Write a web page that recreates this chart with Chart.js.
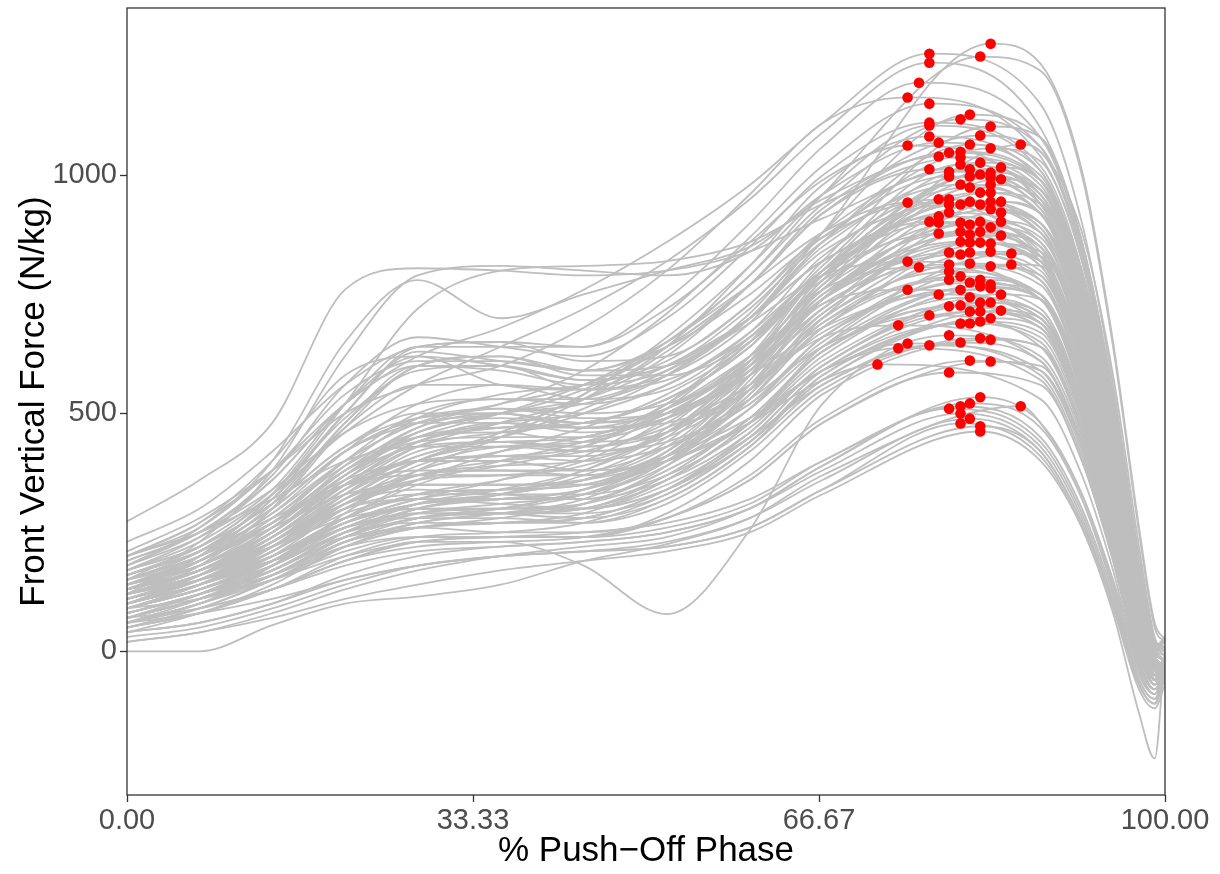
<!DOCTYPE html>
<html>
<head>
<meta charset="utf-8">
<title>Front vertical force during push-off</title>
<script src="https://cdn.jsdelivr.net/npm/chart.js@4.4.1/dist/chart.umd.min.js"></script>
<style>
  html, body { margin: 0; padding: 0; background: #ffffff; }
  #wrap { width: 1220px; height: 874px; }
</style>
</head>
<body>
<div id="wrap"><canvas id="chart" width="1220" height="874"></canvas></div>
<script>
// Phase positions (% of push-off) where each trial's force is sampled
const risePhase = [0, 7, 14, 21, 28, 36, 44, 52, 60, 67];
const fallPhase = [88, 92, 95, 97.5, 99, 100];

// Peak of each trial: phase (%) and force (N/kg)
const peakPhase = [
  83.2, 77.3, 82.2, 77.3, 76.3, 75.2, 77.3, 81.2, 80.3, 77.3,
  77.3, 83.2, 82.2, 77.3, 78.2, 81.2, 86.1, 75.2, 83.2, 80.3,
  79.2, 78.2, 80.3, 82.2, 80.3, 84.2, 77.3, 81.2, 79.2, 83.2,
  82.2, 79.2, 81.2, 83.2, 84.2, 80.3, 83.2, 81.2, 82.2, 83.2,
  78.2, 79.2, 81.2, 83.2, 84.2, 75.2, 79.2, 80.3, 82.2, 83.2,
  79.2, 84.2, 78.2, 77.3, 82.2, 84.2, 78.2, 80.3, 81.2, 83.2,
  80.3, 82.2, 78.2, 81.2, 84.2, 80.3, 81.2, 82.2, 83.2, 83.2,
  79.2, 81.2, 85.2, 80.3, 75.2, 81.2, 79.2, 85.2, 83.2, 76.3,
  79.2, 80.3, 79.2, 82.2, 81.2, 83.2, 82.2, 83.2, 75.2, 80.3,
  78.2, 84.2, 81.2, 82.2, 83.2, 80.3, 79.2, 84.2, 81.2, 82.2,
  77.3, 83.2, 82.2, 80.3, 81.2, 74.3, 79.2, 82.2, 83.2, 80.3,
  75.2, 77.3, 74.3, 81.2, 83.2, 72.3, 79.2, 82.2, 81.2, 86.1,
  80.3, 79.2, 80.3, 81.2, 80.3, 82.2, 82.2
];
const peakForce = [
  1277, 1256, 1250, 1237, 1195, 1164, 1151, 1128, 1118, 1111,
  1105, 1103, 1084, 1082, 1069, 1065, 1065, 1063, 1057, 1050,
  1048, 1040, 1038, 1027, 1023, 1017, 1013, 1013, 1008, 1006,
  1002, 998, 998, 996, 992, 981, 981, 975, 964, 964,
  950, 950, 945, 945, 945, 943, 939, 939, 939, 929,
  922, 922, 914, 903, 903, 903, 901, 901, 897, 891,
  882, 882, 878, 876, 874, 861, 859, 859, 857, 840,
  838, 838, 836, 834, 819, 815, 813, 813, 809, 807,
  798, 788, 781, 781, 775, 771, 767, 763, 760, 760,
  750, 750, 744, 733, 733, 727, 725, 716, 714, 714,
  706, 700, 693, 689, 689, 685, 664, 658, 655, 649,
  647, 643, 637, 611, 609, 603, 586, 534, 521, 515,
  515, 510, 500, 489, 479, 473, 462
];

// Force (N/kg) of each trial at the rise phases
const riseForce = [
  [130, 170, 240, 330, 400, 450, 510, 590, 700, 880],
  [200, 260, 380, 520, 620, 680, 760, 860, 980, 1110],
  [120, 160, 230, 320, 400, 460, 540, 650, 790, 960],
  [170, 230, 330, 460, 560, 640, 720, 820, 950, 1090],
  [180, 240, 340, 520, 640, 640, 640, 740, 900, 1060],
  [210, 280, 380, 500, 560, 600, 680, 800, 960, 1110],
  [140, 200, 290, 400, 480, 520, 590, 710, 870, 1020],
  [100, 150, 230, 330, 410, 450, 500, 580, 710, 880],
  [160, 220, 330, 500, 630, 610, 590, 650, 790, 940],
  [190, 250, 370, 560, 660, 640, 620, 700, 850, 1000],
  [90, 140, 220, 320, 400, 460, 540, 660, 810, 960],
  [80, 120, 190, 280, 360, 420, 470, 540, 650, 820],
  [200, 270, 400, 580, 620, 560, 550, 630, 770, 920],
  [60, 100, 180, 290, 380, 450, 530, 640, 810, 980],
  [150, 230, 380, 620, 790, 810, 800, 790, 840, 960],
  [110, 160, 250, 360, 460, 500, 520, 580, 700, 860],
  [80, 120, 190, 280, 350, 400, 440, 500, 610, 760],
  [230, 300, 420, 560, 640, 650, 640, 720, 860, 990],
  [120, 180, 300, 480, 600, 600, 550, 580, 690, 860],
  [180, 260, 400, 650, 780, 700, 750, 800, 850, 950],
  [140, 190, 280, 400, 480, 520, 560, 640, 770, 920],
  [100, 150, 230, 340, 430, 480, 530, 620, 770, 930],
  [120, 200, 330, 520, 720, 800, 810, 820, 860, 940],
  [273, 360, 480, 760, 805, 800, 790, 800, 840, 910],
  [90, 140, 220, 330, 420, 440, 450, 520, 650, 810],
  [130, 190, 300, 470, 600, 620, 580, 580, 650, 790],
  [160, 210, 300, 420, 480, 500, 550, 640, 770, 920],
  [70, 110, 170, 250, 310, 340, 380, 460, 610, 800],
  [150, 210, 320, 500, 640, 650, 610, 620, 730, 880],
  [110, 160, 240, 350, 440, 470, 480, 530, 640, 800],
  [60, 100, 160, 240, 300, 330, 370, 450, 600, 790],
  [120, 170, 260, 390, 490, 540, 560, 610, 730, 870],
  [140, 200, 310, 480, 600, 620, 590, 600, 700, 850],
  [90, 130, 200, 300, 370, 400, 420, 480, 610, 780],
  [100, 140, 210, 310, 380, 420, 450, 500, 610, 760],
  [170, 240, 360, 520, 620, 600, 570, 600, 720, 860],
  [80, 120, 180, 260, 310, 330, 360, 430, 580, 770],
  [130, 180, 270, 400, 500, 530, 520, 560, 670, 830],
  [110, 160, 240, 350, 430, 460, 480, 530, 640, 800],
  [150, 200, 290, 420, 520, 560, 550, 570, 660, 790],
  [200, 270, 380, 540, 610, 610, 590, 640, 750, 870],
  [70, 110, 170, 250, 300, 330, 380, 470, 620, 800],
  [120, 170, 250, 360, 440, 470, 480, 530, 640, 790],
  [90, 130, 190, 270, 320, 340, 360, 420, 560, 740],
  [130, 170, 250, 370, 470, 510, 500, 520, 600, 720],
  [100, 160, 250, 370, 450, 500, 560, 650, 770, 880],
  [160, 220, 330, 490, 590, 600, 570, 600, 700, 840],
  [50, 90, 150, 230, 280, 300, 340, 420, 580, 780],
  [140, 190, 270, 380, 450, 470, 470, 510, 620, 770],
  [100, 140, 210, 310, 390, 430, 440, 490, 600, 740],
  [110, 160, 240, 350, 440, 480, 500, 560, 670, 800],
  [70, 110, 170, 250, 300, 320, 340, 400, 530, 700],
  [180, 250, 360, 520, 600, 590, 560, 590, 700, 820],
  [130, 190, 280, 390, 460, 500, 530, 600, 700, 820],
  [60, 100, 160, 240, 290, 310, 330, 400, 550, 740],
  [120, 160, 240, 350, 440, 480, 470, 490, 580, 710],
  [90, 140, 210, 300, 360, 390, 430, 520, 660, 800],
  [150, 210, 320, 470, 560, 560, 530, 550, 660, 780],
  [80, 120, 180, 260, 310, 330, 360, 440, 590, 750],
  [130, 170, 250, 370, 460, 490, 480, 500, 590, 720],
  [100, 150, 220, 310, 360, 370, 390, 460, 600, 760],
  [170, 220, 310, 430, 490, 500, 480, 510, 610, 750],
  [60, 110, 180, 270, 320, 360, 410, 510, 650, 790],
  [110, 150, 220, 310, 370, 390, 400, 460, 580, 740],
  [140, 180, 260, 380, 470, 500, 470, 480, 550, 680],
  [90, 130, 190, 270, 310, 320, 340, 410, 570, 740],
  [160, 210, 300, 420, 490, 510, 490, 500, 600, 740],
  [70, 110, 170, 240, 280, 300, 330, 410, 560, 720],
  [120, 160, 240, 340, 410, 440, 430, 460, 560, 700],
  [100, 140, 200, 280, 330, 340, 350, 410, 530, 680],
  [140, 190, 270, 380, 440, 450, 450, 500, 610, 740],
  [50, 90, 150, 220, 260, 280, 310, 390, 540, 710],
  [110, 150, 220, 320, 400, 430, 420, 440, 520, 650],
  [120, 170, 250, 350, 400, 410, 410, 460, 590, 740],
  [190, 250, 340, 460, 520, 530, 530, 590, 690, 790],
  [90, 130, 190, 270, 310, 320, 340, 410, 540, 690],
  [160, 210, 300, 420, 480, 480, 460, 490, 590, 730],
  [80, 120, 170, 240, 280, 290, 300, 360, 480, 640],
  [130, 170, 240, 340, 400, 410, 400, 430, 520, 660],
  [70, 120, 190, 280, 330, 360, 400, 490, 620, 760],
  [100, 140, 200, 280, 330, 340, 350, 420, 550, 700],
  [140, 180, 260, 370, 430, 440, 420, 450, 550, 690],
  [60, 100, 160, 230, 270, 290, 320, 400, 530, 680],
  [110, 150, 220, 310, 350, 350, 350, 400, 510, 660],
  [150, 190, 270, 380, 450, 460, 440, 460, 550, 670],
  [90, 130, 180, 250, 290, 300, 310, 370, 490, 630],
  [120, 160, 230, 320, 370, 380, 370, 410, 510, 640],
  [70, 110, 160, 230, 260, 270, 290, 360, 480, 620],
  [130, 190, 270, 360, 400, 410, 430, 510, 620, 730],
  [100, 140, 200, 280, 320, 320, 330, 390, 510, 660],
  [170, 220, 310, 430, 500, 500, 470, 490, 580, 680],
  [120, 160, 220, 300, 330, 330, 330, 370, 470, 600],
  [80, 120, 170, 240, 280, 290, 300, 360, 480, 630],
  [140, 180, 250, 350, 400, 400, 380, 400, 480, 610],
  [60, 100, 150, 220, 260, 270, 280, 340, 460, 600],
  [110, 150, 210, 290, 320, 320, 320, 380, 490, 630],
  [90, 130, 190, 260, 290, 290, 300, 370, 490, 630],
  [100, 140, 190, 260, 290, 290, 290, 330, 440, 570],
  [130, 170, 230, 310, 340, 330, 320, 360, 460, 600],
  [70, 110, 160, 230, 260, 270, 280, 340, 450, 590],
  [150, 200, 270, 350, 380, 380, 380, 430, 530, 640],
  [110, 150, 200, 270, 300, 300, 300, 340, 440, 570],
  [50, 80, 130, 200, 240, 250, 270, 330, 440, 580],
  [120, 160, 220, 300, 320, 310, 300, 340, 450, 590],
  [90, 130, 180, 250, 270, 270, 270, 320, 430, 580],
  [200, 250, 320, 400, 430, 430, 430, 470, 560, 660],
  [50, 80, 130, 190, 230, 230, 180, 78, 255, 520],
  [100, 140, 190, 260, 280, 280, 270, 310, 420, 550],
  [70, 110, 150, 210, 240, 240, 240, 290, 400, 540],
  [130, 170, 220, 280, 300, 290, 280, 320, 430, 560],
  [40, 80, 140, 220, 270, 290, 310, 380, 480, 590],
  [110, 150, 200, 270, 300, 300, 300, 350, 450, 560],
  [160, 210, 280, 350, 370, 370, 370, 410, 490, 590],
  [80, 120, 160, 220, 240, 240, 240, 280, 370, 490],
  [120, 150, 190, 240, 260, 250, 250, 280, 360, 480],
  [140, 190, 260, 330, 350, 350, 360, 400, 480, 570],
  [60, 90, 130, 190, 220, 230, 240, 280, 360, 480],
  [40, 60, 100, 160, 200, 220, 230, 250, 300, 390],
  [90, 110, 150, 200, 230, 240, 240, 260, 310, 400],
  [0, 0, 55, 100, 115, 140, 190, 225, 280, 370],
  [50, 80, 130, 190, 230, 240, 250, 270, 320, 400],
  [20, 40, 80, 130, 170, 200, 220, 240, 300, 390],
  [70, 90, 130, 180, 210, 220, 230, 250, 300, 380],
  [30, 50, 90, 140, 180, 200, 210, 230, 280, 360],
  [60, 80, 110, 150, 180, 200, 210, 220, 260, 340],
  [40, 60, 100, 150, 180, 200, 210, 220, 260, 340],
  [20, 40, 70, 110, 140, 170, 190, 210, 250, 330]
];

// Force (N/kg) of each trial at the fall phases
const fallForce = [
  [1235, 1010, 650, 260, 60, 25],
  [1150, 900, 560, 200, 20, -10],
  [1220, 1000, 640, 250, 50, 20],
  [1100, 860, 520, 170, 0, -20],
  [1080, 850, 520, 170, 10, 0],
  [1040, 820, 500, 160, -10, -30],
  [1060, 840, 520, 170, 0, -20],
  [1080, 860, 540, 180, 10, -20],
  [1060, 840, 520, 170, 20, 10],
  [1020, 800, 480, 140, -10, -30],
  [1010, 780, 470, 140, -20, -50],
  [1080, 860, 540, 180, 10, -10],
  [1050, 830, 510, 160, 0, -20],
  [990, 760, 450, 120, -20, -30],
  [1000, 780, 470, 140, -10, -40],
  [1010, 790, 480, 140, 10, 20],
  [1050, 880, 580, 220, 30, 0],
  [940, 720, 420, 110, -30, -60],
  [1030, 820, 510, 160, 0, -20],
  [990, 770, 460, 130, -20, -30],
  [990, 770, 460, 130, -10, -30],
  [970, 750, 440, 120, -20, -50],
  [980, 760, 450, 130, -10, -30],
  [990, 780, 470, 140, 10, 30],
  [960, 740, 430, 110, -20, -30],
  [990, 800, 500, 160, 0, -20],
  [930, 710, 410, 100, -30, -40],
  [960, 750, 440, 120, -20, -60],
  [940, 720, 420, 110, -20, -30],
  [970, 770, 470, 140, -10, -30],
  [950, 740, 440, 120, 0, 10],
  [930, 710, 410, 100, -30, -40],
  [940, 730, 430, 110, -20, -30],
  [960, 760, 460, 130, -10, -50],
  [970, 780, 480, 150, 0, -20],
  [920, 700, 400, 100, -30, -40],
  [950, 750, 450, 130, -10, -30],
  [920, 710, 410, 100, -30, -70],
  [920, 720, 420, 110, -20, -30],
  [940, 740, 440, 120, 0, 20],
  [880, 660, 370, 80, -40, -40],
  [890, 680, 390, 90, -30, -60],
  [900, 690, 400, 100, -30, -40],
  [920, 730, 440, 120, -20, -30],
  [920, 740, 450, 130, -10, -30],
  [830, 620, 340, 60, -50, -40],
  [880, 670, 380, 90, -30, -20],
  [890, 680, 390, 90, -30, -40],
  [900, 700, 410, 100, -30, -50],
  [900, 710, 420, 110, -20, -30],
  [860, 650, 360, 80, -40, -40],
  [900, 720, 440, 120, 0, 30],
  [840, 630, 350, 70, -40, -40],
  [820, 610, 330, 60, -50, -60],
  [870, 670, 390, 90, -30, -40],
  [880, 700, 420, 110, -20, -30],
  [830, 620, 340, 60, -50, -40],
  [850, 640, 360, 80, -40, -20],
  [850, 650, 370, 80, -40, -40],
  [860, 670, 390, 90, -30, -50],
  [830, 620, 340, 70, -40, -40],
  [850, 650, 370, 80, -40, -30],
  [810, 600, 320, 50, -50, -40],
  [830, 630, 350, 70, -40, -70],
  [850, 670, 400, 100, -30, -30],
  [810, 610, 330, 60, -50, -40],
  [820, 620, 340, 70, -40, -10],
  [830, 630, 360, 80, -40, -40],
  [840, 650, 380, 90, -30, -30],
  [820, 630, 370, 80, -30, -50],
  [780, 580, 310, 50, -50, -40],
  [800, 600, 330, 60, -50, -40],
  [830, 660, 400, 110, -20, -30],
  [790, 590, 320, 50, -50, -60],
  [740, 540, 280, 30, -60, -40],
  [780, 580, 320, 50, -50, -40],
  [770, 570, 300, 40, -60, -30],
  [810, 640, 380, 100, -30, -30],
  [790, 600, 340, 70, -40, -40],
  [740, 540, 280, 30, -60, -50],
  [750, 550, 290, 30, -60, -40],
  [750, 550, 290, 30, -50, -20],
  [740, 540, 280, 30, -60, -40],
  [750, 560, 300, 50, -50, -40],
  [740, 550, 290, 40, -60, -60],
  [750, 570, 320, 60, -40, -40],
  [740, 550, 300, 40, -50, -30],
  [740, 560, 310, 60, -40, -40],
  [690, 500, 260, 20, -60, -40],
  [720, 530, 280, 30, -60, -70],
  [700, 510, 260, 20, -60, -40],
  [740, 570, 330, 70, -40, -30],
  [710, 520, 270, 30, -60, -40],
  [700, 520, 280, 40, -50, -50],
  [710, 530, 290, 50, -50, -40],
  [690, 500, 260, 20, -60, -30],
  [680, 490, 250, 20, -60, -40],
  [700, 530, 300, 60, -40, -30],
  [680, 500, 260, 20, -60, -50],
  [690, 510, 270, 30, -60, -40],
  [640, 460, 230, 0, -70, -40],
  [680, 500, 270, 30, -60, -60],
  [670, 490, 260, 20, -60, -40],
  [650, 470, 240, 10, -70, -40],
  [660, 480, 250, 10, -70, -50],
  [610, 430, 210, -10, -70, -40],
  [620, 450, 220, 0, -70, -60],
  [640, 460, 240, 10, -70, -40],
  [640, 470, 250, 20, -60, -40],
  [610, 440, 220, 0, -70, -30],
  [580, 410, 200, -20, -80, -50],
  [590, 420, 200, -20, -80, -40],
  [570, 400, 190, -30, -80, -60],
  [590, 430, 220, 0, -70, -40],
  [600, 440, 240, 10, -60, -40],
  [530, 370, 170, -40, -90, -50],
  [560, 400, 190, -20, -80, -40],
  [480, 330, 140, -40, -90, -40],
  [470, 320, 130, -50, -90, -50],
  [480, 330, 150, -30, -80, -40],
  [450, 300, 120, -60, -100, -40],
  [440, 290, 110, -60, -100, -60],
  [430, 280, 100, -70, -110, -40],
  [420, 270, 100, -70, -110, -50],
  [410, 260, 80, -130, -225, 10],
  [420, 270, 100, -70, -110, -40],
  [400, 260, 90, -80, -120, -70]
];

// Axis ticks
const xTickValues = [0, 100 / 3, 200 / 3, 100];
const xTickLabels = ['0.00', '33.33', '66.67', '100.00'];
const yTickValues = [0, 500, 1000];
const yTickLabels = ['0', '500', '1000'];

const FONT = "'Liberation Sans', Arial, Helvetica, sans-serif";

// One grey line per trial: rise samples, the peak, then fall samples
const trialSets = peakPhase.map((px, i) => ({
  type: 'line',
  data: [
    ...risePhase.map((x, j) => ({ x: x, y: riseForce[i][j] })),
    { x: px, y: peakForce[i] },
    ...fallPhase.map((x, j) => ({ x: x, y: fallForce[i][j] }))
  ],
  borderColor: '#bebebe',
  borderWidth: 1.8,
  pointRadius: 0,
  pointHoverRadius: 0,
  fill: false,
  cubicInterpolationMode: 'monotone',
  order: 2
}));

// Red markers at each trial's peak force
const peakSet = {
  type: 'scatter',
  data: peakPhase.map((x, i) => ({ x: x, y: peakForce[i] })),
  backgroundColor: '#ff0000',
  borderColor: '#ff0000',
  borderWidth: 0,
  pointRadius: 5.3,
  order: 1
};

// Full frame around the plotting panel
const panelFrame = {
  id: 'panelFrame',
  afterDraw(chart) {
    const { ctx, chartArea: a } = chart;
    ctx.save();
    ctx.strokeStyle = '#333333';
    ctx.lineWidth = 1.3;
    ctx.strokeRect(a.left, a.top, a.right - a.left, a.bottom - a.top);
    ctx.restore();
  }
};

new Chart(document.getElementById('chart'), {
  data: { datasets: [...trialSets, peakSet] },
  options: {
    responsive: false,
    animation: false,
    devicePixelRatio: 1,
    events: [],
    layout: { padding: { left: 0, top: 8, right: 55, bottom: 0 } },
    plugins: { legend: { display: false }, tooltip: { enabled: false } },
    scales: {
      x: {
        type: 'linear',
        min: 0,
        max: 100,
        afterBuildTicks: s => { s.ticks = xTickValues.map(v => ({ value: v })); },
        afterFit: s => { s.height = 79; s.paddingLeft = 0; s.paddingRight = 0; },
        ticks: {
          callback: (v, i) => xTickLabels[i],
          color: '#4d4d4d',
          font: { family: FONT, size: 29 },
          padding: 2,
          maxRotation: 0,
          autoSkip: false
        },
        grid: { display: true, drawOnChartArea: false, drawTicks: true, tickLength: 7, tickColor: '#333333', tickWidth: 1.3 },
        border: { display: false },
        title: {
          display: true,
          text: '% Push−Off Phase',
          color: '#000000',
          font: { family: FONT, size: 35 },
          padding: { top: 0, bottom: 2 }
        }
      },
      y: {
        type: 'linear',
        min: -302,
        max: 1352,
        afterBuildTicks: s => { s.ticks = yTickValues.map(v => ({ value: v })); },
        afterFit: s => { s.width = 127; s.paddingTop = 0; s.paddingBottom = 0; },
        ticks: {
          callback: (v, i) => yTickLabels[i],
          color: '#4d4d4d',
          font: { family: FONT, size: 29 },
          padding: 3
        },
        grid: { display: true, drawOnChartArea: false, drawTicks: true, tickLength: 7, tickColor: '#333333', tickWidth: 1.3 },
        border: { display: false },
        title: {
          display: true,
          text: 'Front Vertical Force (N/kg)',
          color: '#000000',
          font: { family: FONT, size: 35 },
          padding: { top: 13, bottom: 0 }
        }
      }
    }
  },
  plugins: [panelFrame]
});
</script>
</body>
</html>
